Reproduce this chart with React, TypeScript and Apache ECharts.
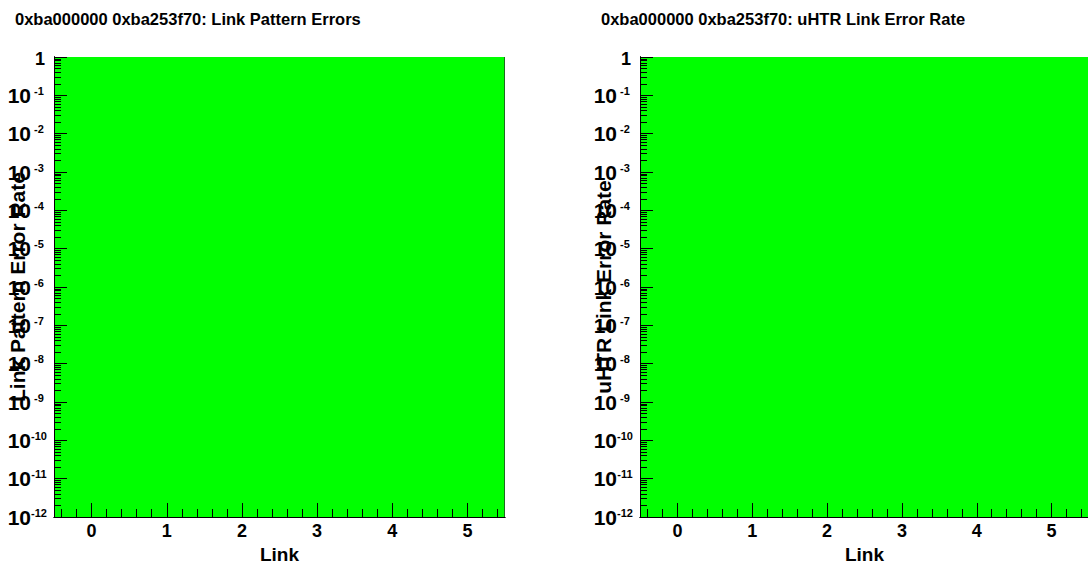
import React, { useEffect, useRef } from "react";
import * as echarts from "echarts";

const LINKS = [0, 1, 2, 3, 4, 5];
const PATTERN_ERROR_RATE = [1, 1, 1, 1, 1, 1];
const UHTR_ERROR_RATE = [1, 1, 1, 1, 1, 1];
const TITLES = [
  "0xba000000 0xba253f70: Link Pattern Errors",
  "0xba000000 0xba253f70: uHTR Link Error Rate",
];
const Y_NAMES = ["Link Pattern Error Rate", "uHTR Link Error Rate"];
const X_NAME = "Link";
const Y_MIN = 1e-12;
const Y_MAX = 1;
const X_MIN = -0.5;
const X_MAX = 5.5;

const FONT = "'Liberation Sans', Arial, Helvetica, sans-serif";

const xMinorTicks: number[] = [];
for (let i = -2; i <= 27; i++) {
  const v = Math.round((i * 0.2) * 10) / 10;
  if (v > X_MIN && v < X_MAX && Math.abs(v - Math.round(v)) > 1e-6) xMinorTicks.push(v);
}
const yMinorTicks: number[] = [];
for (let n = -12; n < 0; n++) {
  for (let k = 2; k <= 9; k++) yMinorTicks.push(n + Math.log10(k));
}
const yMajorExp: number[] = [];
for (let n = -12; n <= 0; n++) yMajorExp.push(n);

const GRIDS = [
  { left: 54, top: 57, width: 451, height: 460 },
  { left: 640, top: 57, width: 449, height: 460 },
];

export default function App() {
  const ref = useRef<HTMLDivElement>(null);
  useEffect(() => {
    if (!ref.current) return;
    const chart = echarts.init(ref.current, undefined, { renderer: "svg" });
    const datasets = [PATTERN_ERROR_RATE, UHTR_ERROR_RATE];

    const blackLine = { show: true, onZero: false, lineStyle: { color: "#000", width: 1 } };
    const xAxis: any[] = [];
    const yAxis: any[] = [];
    const series: any[] = [];
    GRIDS.forEach((g, gi) => {
      xAxis.push({
        type: "value",
        gridIndex: gi,
        min: X_MIN,
        max: X_MAX,
        z: 10,
        position: "bottom",
        name: X_NAME,
        nameLocation: "middle",
        nameGap: 25,
        nameTextStyle: { fontFamily: FONT, fontWeight: "bold", fontSize: 19, lineHeight: 18, color: "#000" },
        axisLine: blackLine,
        axisTick: { show: true, inside: true, length: 14, customValues: LINKS, lineStyle: { color: "#000" } },
        axisLabel: { show: true, customValues: LINKS, margin: 5, fontFamily: FONT, fontWeight: "bold", fontSize: 18, color: "#000" },
        splitLine: { show: false },
      });
      xAxis.push({
        type: "value",
        gridIndex: gi,
        min: X_MIN,
        max: X_MAX,
        z: 10,
        position: "bottom",
        axisLine: blackLine,
        axisTick: { show: true, inside: true, length: 8, customValues: xMinorTicks, lineStyle: { color: "#000" } },
        axisLabel: { show: false },
        splitLine: { show: false },
      });
      yAxis.push({
        type: "log",
        logBase: 10,
        gridIndex: gi,
        min: Y_MIN,
        max: Y_MAX,
        z: 10,
        position: "left",
        name: Y_NAMES[gi],
        nameLocation: "middle",
        nameRotate: 90,
        nameGap: 26,
        nameTextStyle: { fontFamily: FONT, fontWeight: "bold", fontSize: 21, color: "#000" },
        axisLine: blackLine,
        axisTick: { show: false },
        axisLabel: { show: false },
        splitLine: { show: false },
      });
      yAxis.push({
        type: "value",
        gridIndex: gi,
        min: -12,
        max: 0,
        z: 10,
        position: "left",
        axisLine: blackLine,
        axisTick: { show: true, inside: true, length: 13, customValues: yMajorExp, lineStyle: { color: "#000" } },
        axisLabel: {
          show: true,
          customValues: yMajorExp,
          margin: 7,
          fontFamily: FONT,
          fontWeight: "bold",
          color: "#000",
          formatter: (v: number) => {
            const n = Math.round(v);
            if (n === 0) return "{one|1}";
            return "{b|10}{s|" + n + "}";
          },
          rich: {
            one: { fontFamily: FONT, fontWeight: "bold", fontSize: 18, color: "#000", lineHeight: 22, padding: [3, 2, 0, 0] },
            b: { fontFamily: FONT, fontWeight: "bold", fontSize: 21, color: "#000", lineHeight: 22, verticalAlign: "middle" },
            s: { fontFamily: FONT, fontWeight: "bold", fontSize: 11, color: "#000", lineHeight: 12, width: 16, align: "left", verticalAlign: "top", padding: [1, 0, 0, 0] },
          },
        },
        splitLine: { show: false },
      });
      yAxis.push({
        type: "value",
        gridIndex: gi,
        min: -12,
        max: 0,
        z: 10,
        position: "left",
        axisLine: blackLine,
        axisTick: { show: true, inside: true, length: 7, customValues: yMinorTicks, lineStyle: { color: "#000" } },
        axisLabel: { show: false },
        splitLine: { show: false },
      });

      const vals = datasets[gi];
      series.push({
        type: "custom",
        xAxisIndex: gi * 2,
        yAxisIndex: gi * 3,
        clip: true,
        data: LINKS.map((l, i) => [l, vals[i]]),
        renderItem: (params: any, api: any) => {
          const x = api.value(0);
          const v = api.value(1);
          const p0 = api.coord([x - 0.5, v]);
          const p1 = api.coord([x + 0.5, Y_MIN]);
          const last = params.dataIndex === LINKS.length - 1;
          const children: any[] = [
            {
              type: "rect",
              shape: { x: p0[0], y: p0[1], width: p1[0] - p0[0] + (last ? 0 : 1), height: p1[1] - p0[1] },
              style: { fill: "#00ff00" },
            },
          ];
          if (last) {
            children.push({
              type: "line",
              shape: { x1: p1[0], y1: p0[1], x2: p1[0], y2: p1[1] },
              style: { stroke: "#1e6b1e", lineWidth: 2 },
            });
          }
          return { type: "group", children };
        },
      });
    });

    chart.setOption({
      animation: false,
      backgroundColor: "#ffffff",
      title: [
        { text: TITLES[0], left: 15, top: 10, padding: 0, textStyle: { fontFamily: FONT, fontWeight: "bold", fontSize: 16.5, color: "#000" } },
        { text: TITLES[1], left: 601, top: 10, padding: 0, textStyle: { fontFamily: FONT, fontWeight: "bold", fontSize: 16.5, color: "#000" } },
      ],
      grid: GRIDS.map((g) => ({ ...g, containLabel: false, outerBoundsMode: "none" })),
      xAxis,
      yAxis,
      series,
    });
    return () => chart.dispose();
  }, []);
  return <div ref={ref} style={{ position: "absolute", left: 0, top: 0, width: 1088, height: 564 }} />;
}
